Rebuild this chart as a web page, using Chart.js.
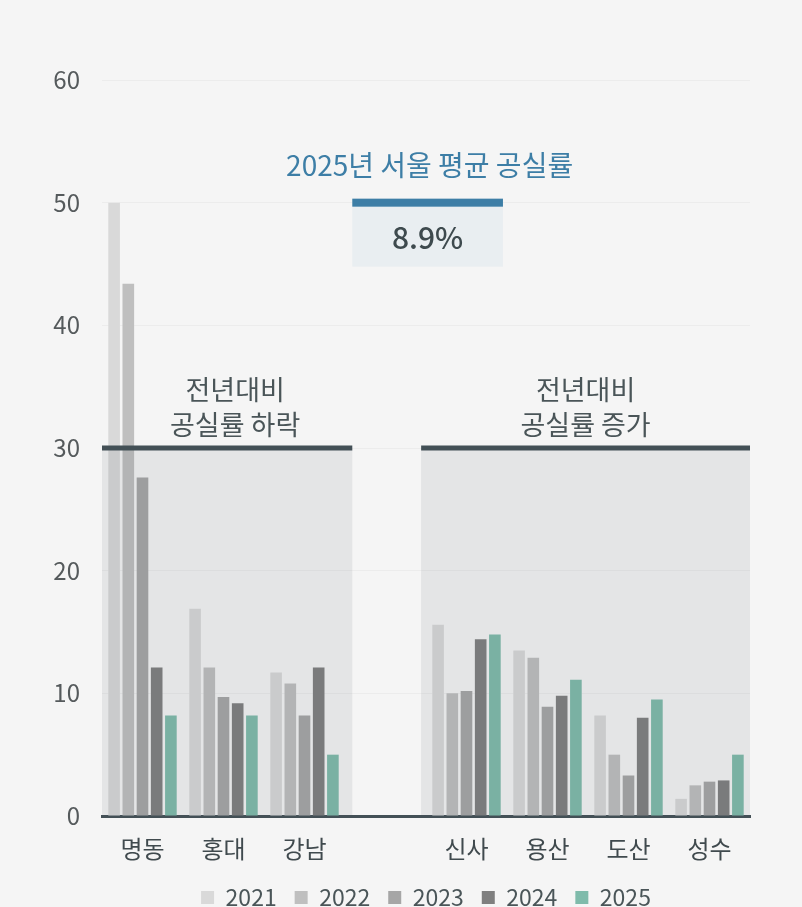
<!DOCTYPE html>
<html lang="ko">
<head>
    <meta charset="UTF-8">
    <title>서울 권역별 공실률</title>
    <script src="https://cdn.jsdelivr.net/npm/chart.js"></script>
    <style>
        html, body { margin: 0; padding: 0; background: #f5f5f5; overflow: hidden; }
        #wrap { width: 802px; height: 930px; }
    </style>
</head>
<body>
    <div id="wrap"><canvas id="chart" width="802" height="930"></canvas></div>
    <script>
        // 권역 (빈 칸은 두 그룹 사이 간격)
        const areas = ['명동', '홍대', '강남', '', '신사', '용산', '도산', '성수'];
        const years = ['2021', '2022', '2023', '2024', '2025'];

        // 연도별 공실률 (%)
        const v2021 = [50.0, 16.9, 11.7, null, 15.6, 13.5, 8.2, 1.4];
        const v2022 = [43.4, 12.1, 10.8, null, 10.0, 12.9, 5.0, 2.5];
        const v2023 = [27.6, 9.7, 8.2, null, 10.2, 8.9, 3.3, 2.8];
        const v2024 = [12.1, 9.2, 12.1, null, 14.4, 9.8, 8.0, 2.9];
        const v2025 = [8.2, 8.2, 5.0, null, 14.8, 11.1, 9.5, 5.0];

        const yTicks = [0, 10, 20, 30, 40, 50, 60];
        const seoulAvg = '8.9%';

        const colors = ['#d9d9d9', '#bfbfbf', '#a6a6a6', '#7f7f7f', '#7fbbab'];
        const series = [v2021, v2022, v2023, v2024, v2025];

        const FONT = '"Noto Sans CJK KR", "Noto Sans", sans-serif';
        const DARK = '#435056';

        // 음영 영역, 안내 문구, 평균 박스
        const overlayPlugin = {
            id: 'overlay',
            afterDatasetsDraw(chart) {
                const { ctx, chartArea, scales: { x, y } } = chart;
                const catW = x.getPixelForValue(1) - x.getPixelForValue(0);
                const mid = x.getPixelForValue(3);
                const y30 = y.getPixelForValue(30);
                const y0 = y.getPixelForValue(0);

                const leftEnd = mid - 0.41 * catW;
                const rightStart = mid + 0.44 * catW;

                ctx.save();
                ctx.fillStyle = 'rgba(80, 88, 100, 0.1)';
                ctx.fillRect(chartArea.left, y30, leftEnd - chartArea.left, y0 - y30);
                ctx.fillRect(rightStart, y30, chartArea.right - rightStart, y0 - y30);

                ctx.fillStyle = DARK;
                ctx.fillRect(chartArea.left, y30 - 2.5, leftEnd - chartArea.left, 5);
                ctx.fillRect(rightStart, y30 - 2.5, chartArea.right - rightStart, 5);

                ctx.fillStyle = '#4a5558';
                ctx.font = '27px ' + FONT;
                ctx.textAlign = 'center';
                ctx.textBaseline = 'middle';
                const lc = (chartArea.left + leftEnd) / 2 + 8;
                const rc = (rightStart + chartArea.right) / 2;
                ctx.fillText('전년대비', lc, y30 - 58);
                ctx.fillText('공실률 하락', lc, y30 - 23);
                ctx.fillText('전년대비', rc, y30 - 58);
                ctx.fillText('공실률 증가', rc, y30 - 23);

                // 평균 공실률 박스
                const bx0 = leftEnd;
                const bx1 = mid + 1.45 * catW;
                const by = y.getPixelForValue(50) - 4;
                ctx.fillStyle = '#e9eef1';
                ctx.fillRect(bx0, by, bx1 - bx0, 68);
                ctx.fillStyle = '#3d7ea6';
                ctx.fillRect(bx0, by, bx1 - bx0, 8);

                ctx.fillStyle = '#3d7ea6';
                ctx.font = '28px ' + FONT;
                ctx.fillText('2025년 서울 평균 공실률', (bx0 + bx1) / 2 + 2, by - 33);

                ctx.fillStyle = '#3e4a4e';
                ctx.font = '500 30px ' + FONT;
                ctx.fillText(seoulAvg, (bx0 + bx1) / 2, by + 39);
                ctx.restore();
            }
        };

        new Chart(document.getElementById('chart'), {
            type: 'bar',
            data: {
                labels: areas,
                datasets: years.map((yr, i) => ({
                    label: yr,
                    data: series[i],
                    backgroundColor: colors[i],
                    borderWidth: 0,
                    categoryPercentage: 0.876,
                    barPercentage: 0.82
                }))
            },
            options: {
                responsive: false,
                animation: false,
                layout: { padding: { top: 80, right: 52, bottom: 11, left: 0 } },
                plugins: {
                    legend: {
                        position: 'bottom',
                        fullSize: false,
                        labels: {
                            boxWidth: 13,
                            boxHeight: 13,
                            padding: 18,
                            color: '#4a5558',
                            font: { family: FONT, size: 23 }
                        }
                    },
                    tooltip: { enabled: false }
                },
                scales: {
                    x: {
                        grid: { display: false, drawTicks: false },
                        border: { display: true, color: DARK, width: 3 },
                        ticks: {
                            padding: 18,
                            color: '#404a4e',
                            font: { family: FONT, size: 24 }
                        },
                        afterFit(s) { s.height = 52; }
                    },
                    y: {
                        min: 0,
                        max: 60,
                        afterBuildTicks(s) { s.ticks = yTicks.map(v => ({ value: v })); },
                        grid: { color: 'rgba(0,0,0,0.035)', drawTicks: false },
                        border: { display: false },
                        ticks: {
                            padding: 22,
                            color: '#555a5c',
                            font: { family: FONT, size: 24 }
                        },
                        afterFit(s) { s.width = 102; }
                    }
                }
            },
            plugins: [overlayPlugin]
        });
    </script>
</body>
</html>
